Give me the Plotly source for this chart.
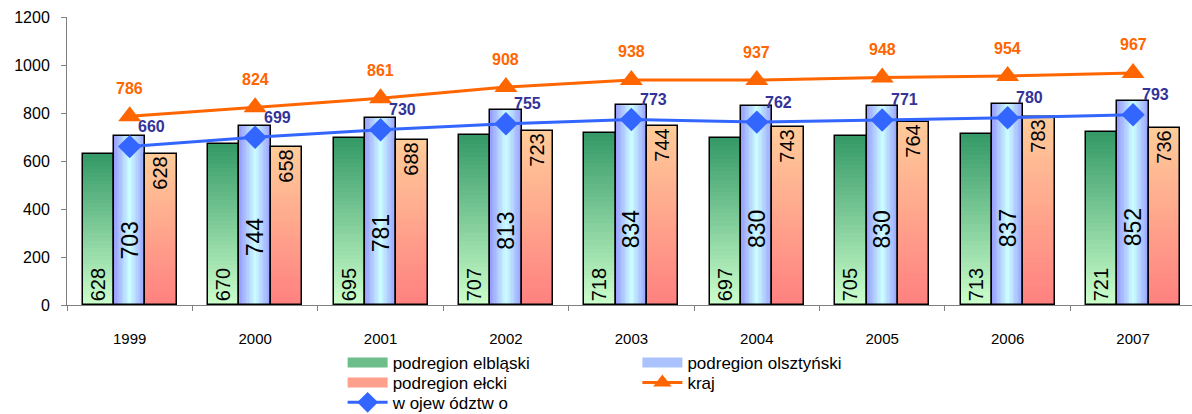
import plotly.graph_objects as go

# ---- data ----
years = ["1999", "2000", "2001", "2002", "2003", "2004", "2005", "2006", "2007"]
elblaski = [628, 670, 695, 707, 718, 697, 705, 713, 721]
olsztynski = [703, 744, 781, 813, 834, 830, 830, 837, 852]
elcki = [628, 658, 688, 723, 744, 743, 764, 783, 736]
kraj = [786, 824, 861, 908, 938, 937, 948, 954, 967]
wojewodztwo = [660, 699, 730, 755, 773, 762, 771, 780, 793]

FONT = "Liberation Sans, Arial, sans-serif"
x = list(range(len(years)))
BW = 0.25


def mix(c1, c2, t):
    return "rgb(%d,%d,%d)" % tuple(round(a + (b - a) * t) for a, b in zip(c1, c2))


fig = go.Figure()

# vertical gradients (top colour -> bottom colour), drawn bottom-up overlapping
N = 40
def vgrad(vals, offset, top, bottom):
    for k in range(N):
        frac = k / N
        col = mix(bottom, top, (k + 0.5) / N)
        fig.add_trace(go.Bar(
            x=x, y=[v * (1 - frac) for v in vals], base=[v * frac for v in vals],
            width=BW, offset=offset, marker=dict(color=col, line=dict(width=0)),
            showlegend=False, hoverinfo="skip"))

vgrad(elblaski, -0.375, (51, 153, 102), (204, 255, 204))
vgrad(elcki, 0.125, (255, 204, 153), (255, 128, 128))

# horizontal gradient for olsztynski (edges blue -> centre cyan)
M = 12
edge, centre = (150, 155, 255), (204, 255, 255)
for j in range(M):
    d = (BW / 2) * j / M
    col = mix(edge, centre, (j + 0.5) / M)
    fig.add_trace(go.Bar(
        x=x, y=olsztynski, width=BW - 2 * d, offset=-0.125 + d,
        marker=dict(color=col, line=dict(width=0)),
        showlegend=False, hoverinfo="skip"))

# outlines + in-bar labels
def outline(vals, offset, anchor, show_text=True):
    fig.add_trace(go.Bar(
        x=x, y=vals, width=BW, offset=offset,
        marker=dict(color="rgba(0,0,0,0)", line=dict(color="black", width=1.5)),
        text=[str(v) for v in vals] if show_text else None,
        textposition="inside" if show_text else "none",
        insidetextanchor=anchor, textangle=-90, constraintext="none",
        textfont=dict(family=FONT, size=20, color="black"),
        showlegend=False, hoverinfo="skip"))

outline(elblaski, -0.375, "start")
outline(olsztynski, -0.125, "middle", show_text=False)
outline(elcki, 0.125, "end")

# lines
fig.add_trace(go.Scatter(
    x=x, y=kraj, mode="lines+markers", name="kraj", legend="legend4",
    line=dict(color="#FF6600", width=3),
    marker=dict(symbol="triangle-up", size=20, color="#FF6600"),
    hoverinfo="skip"))
fig.add_trace(go.Scatter(
    x=x, y=wojewodztwo, mode="lines+markers", name="w ojew ództw o", legend="legend5",
    line=dict(color="#3366FF", width=3),
    marker=dict(symbol="diamond", size=18, color="#3366FF"),
    hoverinfo="skip"))

# legend stand-ins for bar series
fig.add_trace(go.Scatter(x=[None], y=[None], mode="lines", name="podregion elbląski",
                         legend="legend", line=dict(color="rgb(110,190,140)", width=10)))
fig.add_trace(go.Scatter(x=[None], y=[None], mode="lines", name="podregion olsztyński",
                         legend="legend2", line=dict(color="rgb(170,195,255)", width=10)))
fig.add_trace(go.Scatter(x=[None], y=[None], mode="lines", name="podregion ełcki",
                         legend="legend3", line=dict(color="rgb(255,160,140)", width=10)))

ann = []
for i, v in enumerate(olsztynski):
    ann.append(dict(x=i, y=v * 0.38, text=str(v), showarrow=False, textangle=-90,
                    font=dict(family=FONT, size=23, color="black")))
for i, v in enumerate(kraj):
    ann.append(dict(x=i, y=v, text="<b>%d</b>" % v, showarrow=False, yshift=28,
                    font=dict(family=FONT, size=16, color="#FF6600")))
for i, v in enumerate(wojewodztwo):
    ann.append(dict(x=i, y=v, text="<b>%d</b>" % v, showarrow=False, xshift=22, yshift=20,
                    font=dict(family=FONT, size=16, color="#333399")))

leg = dict(orientation="v", xanchor="left", yanchor="top",
           font=dict(family=FONT, size=17, color="black"), itemwidth=40,
           bgcolor="rgba(0,0,0,0)", tracegroupgap=0)
C1, C2 = 0.245, 0.507
R1, R2, R3 = -0.139, -0.208, -0.277

fig.update_layout(
    width=1192, height=414,
    margin=dict(l=67, r=0, t=17, b=109, autoexpand=False),
    paper_bgcolor="white", plot_bgcolor="white",
    barmode="overlay", bargap=0,
    font=dict(family=FONT, color="black"),
    annotations=ann,
    legend=dict(leg, x=C1, y=R1),
    legend2=dict(leg, x=C2, y=R1),
    legend3=dict(leg, x=C1, y=R2),
    legend4=dict(leg, x=C2, y=R2),
    legend5=dict(leg, x=C1, y=R3),
    xaxis=dict(range=[-0.5, 8.47], tickvals=x, ticktext=years, ticks="",
               showline=True, linecolor="#808080", linewidth=1, showgrid=False,
               zeroline=False, tickfont=dict(family=FONT, size=15, color="black"),
               ticklabelstandoff=20,
               minor=dict(ticks="outside", ticklen=5, tick0=0.5, dtick=1, tickcolor="#808080")),
    yaxis=dict(range=[0, 1200], tickvals=[0, 200, 400, 600, 800, 1000, 1200],
               ticks="outside", ticklen=5, tickcolor="#808080",
               showline=True, linecolor="#808080", linewidth=1, showgrid=False,
               zeroline=False, tickfont=dict(family=FONT, size=16, color="black"),
               ticklabelstandoff=8),
)

fig.write_html("out.html", config={"displayModeBar": False},
               post_script="document.body.style.margin='0';document.body.style.overflow='hidden';")
